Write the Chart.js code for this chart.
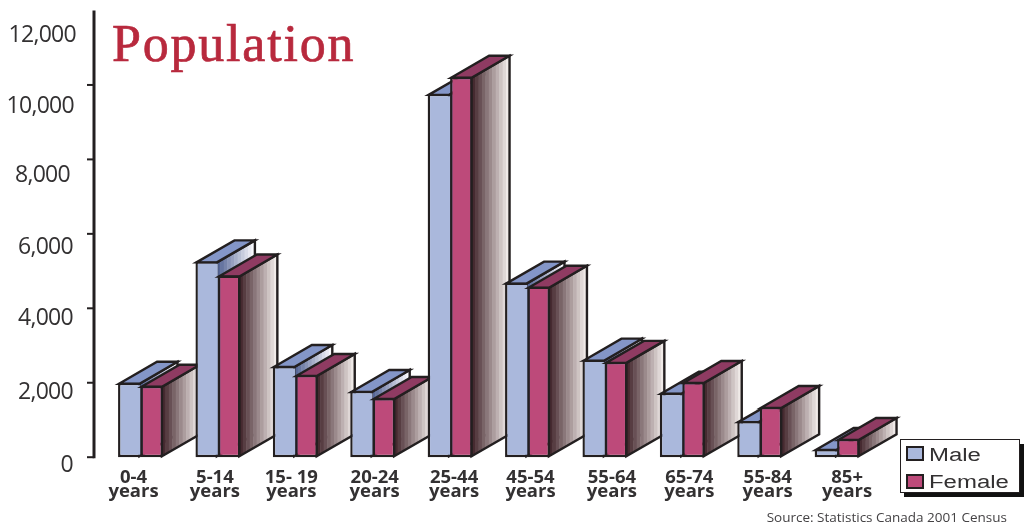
<!DOCTYPE html>
<html>
<head>
<meta charset="utf-8">
<title>Population</title>
<script src="https://cdn.jsdelivr.net/npm/chart.js@4/dist/chart.umd.min.js"></script>
<style>
html, body { margin: 0; padding: 0; background: #fff; }
canvas { display: block; }
</style>
</head>
<body>
<canvas id="populationChart" width="1024" height="525"></canvas>
<script>
var categories = ["0-4", "5-14", "15- 19", "20-24", "25-44", "45-54", "55-64", "65-74", "55-84", "85+"];
var maleValues = [2000, 5260, 2450, 1780, 9760, 4690, 2620, 1730, 970, 220];
var femaleValues = [1920, 4880, 2210, 1590, 10220, 4580, 2560, 2020, 1350, 490];
var yTicks = [0, 2000, 4000, 6000, 8000, 10000, 12000];

// the original labels drift away from their ticks, so nudge them one by one
var yLabelDrop = [8, 10, 10, 14, 16, 22, 25];
var yLabelRight = [73, 73, 73, 73, 70, 74, 76];
var xLabelShift = [-7, -3, -4, 2, 4, 3, 7, 7, 8, 10];

var INK = "#231f20";
var DEPTH_X = 38, DEPTH_Y = -22;

function mix(a, b, t) {
    return "rgb(" + a.map(function (v, i) { return Math.round(v + (b[i] - v) * t); }).join(",") + ")";
}

function drawFace(ctx, pts, fill) {
    ctx.beginPath();
    ctx.moveTo(pts[0][0], pts[0][1]);
    for (var i = 1; i < pts.length; i++) ctx.lineTo(pts[i][0], pts[i][1]);
    ctx.closePath();
    if (fill) { ctx.fillStyle = fill; ctx.fill(); }
}

function drawSide(ctx, right, top, base, from, to) {
    var pts = [[right, top], [right + DEPTH_X, top + DEPTH_Y], [right + DEPTH_X, base + DEPTH_Y], [right, base]];
    ctx.save();
    drawFace(ctx, pts);
    ctx.clip();
    var bands = 11;
    for (var k = 0; k < bands; k++) {
        ctx.fillStyle = mix(from, to, k / (bands - 1));
        ctx.fillRect(right + k * DEPTH_X / bands, top + DEPTH_Y, DEPTH_X / bands + 0.5, base - top - DEPTH_Y);
    }
    ctx.restore();
    drawFace(ctx, pts);
    ctx.stroke();
}

// extruded look: side and top first, then the library's own bar on the front
var extrude = {
    id: "extrude",
    beforeDatasetsDraw: function (chart) {
        var ctx = chart.ctx;
        ctx.save();
        ctx.strokeStyle = INK;
        ctx.lineWidth = 2.4;
        ctx.lineJoin = "miter";
        categories.forEach(function (c, i) {
            chart.data.datasets.forEach(function (ds, d) {
                var bar = chart.getDatasetMeta(d).data[i];
                var p = bar.getProps(["x", "y", "base", "width"]);
                var l = p.x - p.width / 2 + 1, r = p.x + p.width / 2 - 1;
                var t = p.y + 1, b = p.base - 1;
                drawSide(ctx, r, t, b, ds.sideFrom, ds.sideTo);
                drawFace(ctx, [[l, t], [l + DEPTH_X, t + DEPTH_Y], [r + DEPTH_X, t + DEPTH_Y], [r, t]], ds.topColor);
                ctx.stroke();
                bar.draw(ctx);
            });
        });
        ctx.restore();
        return false;
    },
    afterDraw: function (chart) {
        var ctx = chart.ctx, y = chart.scales.y, x = chart.scales.x;
        ctx.save();

        // y axis sits a little left of the plot
        var axisX = 94;
        ctx.strokeStyle = INK;
        ctx.lineWidth = 3;
        ctx.beginPath();
        ctx.moveTo(axisX, y.getPixelForValue(12000));
        ctx.lineTo(axisX, y.getPixelForValue(0) + 1);
        ctx.stroke();
        ctx.lineWidth = 2;
        ctx.fillStyle = "#333132";
        ctx.font = "23px 'Open Sans'";
        ctx.letterSpacing = "-0.7px";
        ctx.textAlign = "right";
        ctx.textBaseline = "middle";
        yTicks.forEach(function (v, i) {
            var py = y.getPixelForValue(v);
            if (v < 12000) {
                ctx.beginPath();
                ctx.moveTo(axisX - 7, py);
                ctx.lineTo(axisX, py);
                ctx.stroke();
            }
            ctx.fillText(v.toLocaleString("en-US"), yLabelRight[i], py + yLabelDrop[i]);
        });
        ctx.letterSpacing = "0px";

        // category labels
        ctx.textAlign = "center";
        ctx.font = "700 18.5px 'Open Sans'";
        categories.forEach(function (c, i) {
            var px = x.getPixelForValue(i) + xLabelShift[i];
            ctx.fillText(c, px, 478);
            ctx.fillText("years", px, 492);
        });

        // title
        ctx.textAlign = "left";
        ctx.textBaseline = "alphabetic";
        ctx.fillStyle = "#b8293d";
        ctx.strokeStyle = "#b8293d";
        ctx.lineWidth = 0.7;
        ctx.font = "52px 'Liberation Serif'";
        ctx.letterSpacing = "1.8px";
        ctx.fillText("Population", 112, 61);
        ctx.strokeText("Population", 112, 61);
        ctx.letterSpacing = "0px";

        // source
        ctx.fillStyle = "#444244";
        ctx.font = "13.5px 'Open Sans'";
        ctx.textAlign = "right";
        ctx.fillText("Source: Statistics Canada 2001 Census", 1007, 522);

        // legend box with hard shadow
        ctx.fillStyle = "#111";
        ctx.fillRect(904, 444, 120, 53);
        ctx.fillStyle = "#fff";
        ctx.strokeStyle = INK;
        ctx.lineWidth = 1;
        ctx.fillRect(900.5, 439.5, 119, 53);
        ctx.strokeRect(900.5, 439.5, 119, 53);
        ctx.textAlign = "left";
        ctx.textBaseline = "alphabetic";
        chart.data.datasets.forEach(function (ds, d) {
            var ly = 447 + d * 28;
            ctx.fillStyle = ds.backgroundColor;
            ctx.fillRect(907, ly, 16, 13);
            ctx.strokeStyle = INK;
            ctx.lineWidth = 2;
            ctx.strokeRect(907, ly, 16, 13);
            ctx.fillStyle = "#333132";
            ctx.font = "18px 'Liberation Sans'";
            ctx.save();
            ctx.translate(929, ly + 14 - d);
            ctx.scale(1.33, 1);
            ctx.fillText(ds.label, 0, 0);
            ctx.restore();
        });
        ctx.restore();
    }
};

new Chart(document.getElementById("populationChart"), {
    type: "bar",
    data: {
        labels: categories,
        datasets: [
            {
                label: "Male",
                data: maleValues,
                backgroundColor: "#aab8dc",
                borderColor: INK,
                borderWidth: 2.4,
                borderSkipped: "right",
                topColor: "#8496c8",
                sideFrom: [86, 102, 150],
                sideTo: [248, 248, 252]
            },
            {
                label: "Female",
                data: femaleValues,
                backgroundColor: "#bd4a7a",
                borderColor: INK,
                borderWidth: 2.4,
                borderSkipped: false,
                topColor: "#8f3b62",
                sideFrom: [70, 42, 48],
                sideTo: [240, 234, 232]
            }
        ]
    },
    options: {
        responsive: false,
        animation: false,
        layout: { padding: { left: 101.8, right: 148.2, top: 10.5, bottom: 67.8 } },
        categoryPercentage: 0.58,
        barPercentage: 1,
        plugins: { legend: { display: false }, title: { display: false }, tooltip: { enabled: false } },
        scales: {
            x: { display: false, grid: { display: false } },
            y: { display: false, min: 0, max: 12000, ticks: { stepSize: 2000 }, grid: { display: false } }
        }
    },
    plugins: [extrude]
});
</script>
</body>
</html>
